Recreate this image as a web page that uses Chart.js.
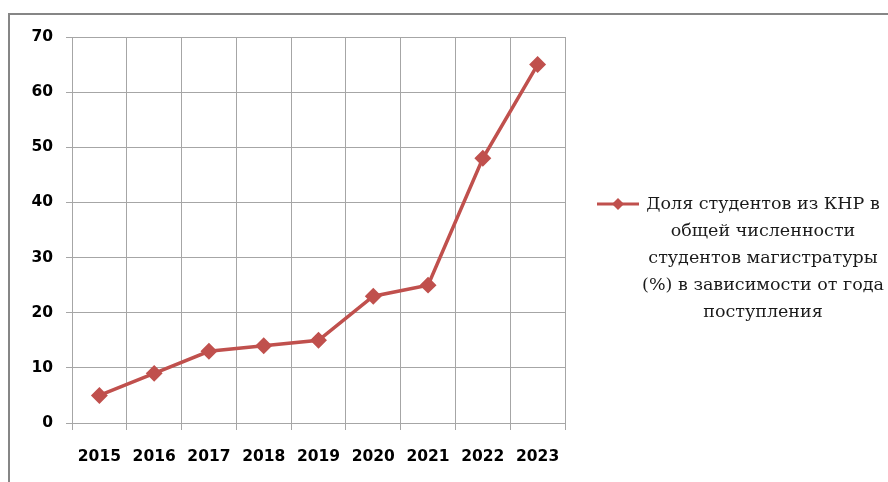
<!DOCTYPE html>
<html lang="ru">
<head>
<meta charset="UTF-8">
<title>Доля студентов из КНР</title>
<script src="https://cdn.jsdelivr.net/npm/chart.js"></script>
<style>
    body {
        margin: 0;
        padding: 0;
        background: #fff;
        overflow: hidden;
    }
    .wrap {
        position: relative;
        width: 888px;
        height: 482px;
    }
    .frame {
        position: absolute;
        left: 8px;
        top: 13px;
        width: 900px;
        height: 500px;
        border-left: 2px solid #868686;
        border-top: 2px solid #868686;
    }
    canvas {
        position: absolute;
        left: 0;
        top: 0;
    }
</style>
</head>
<body>
<div class="wrap">
    <div class="frame"></div>
    <canvas id="myChart" width="888" height="482"></canvas>
</div>

<script>
    var years = ['2015', '2016', '2017', '2018', '2019', '2020', '2021', '2022', '2023'];
    var shares = [5, 9, 13, 14, 15, 23, 25, 48, 65];
    var legendLines = [
        'Доля студентов из КНР в',
        'общей численности',
        'студентов магистратуры',
        '(%) в зависимости от года',
        'поступления'
    ];

    var lineColor = '#C0504D';
    var gridColor = '#A6A6A6';

    // legend with wrapped text, drawn by hand
    var wrappedLegend = {
        id: 'wrappedLegend',
        afterDraw: function(chart) {
            var ctx = chart.ctx;
            ctx.save();
            var y0 = 204;
            ctx.strokeStyle = lineColor;
            ctx.lineWidth = 3;
            ctx.beginPath();
            ctx.moveTo(597, y0);
            ctx.lineTo(639, y0);
            ctx.stroke();
            ctx.fillStyle = lineColor;
            ctx.beginPath();
            ctx.moveTo(618, y0 - 6);
            ctx.lineTo(624, y0);
            ctx.lineTo(618, y0 + 6);
            ctx.lineTo(612, y0);
            ctx.closePath();
            ctx.fill();

            ctx.fillStyle = '#1a1a1a';
            ctx.font = '17.5px "DejaVu Serif"';
            ctx.textAlign = 'center';
            ctx.textBaseline = 'middle';
            for (var i = 0; i < legendLines.length; i++) {
                ctx.fillText(legendLines[i], 763, y0 + i * 27);
            }
            ctx.restore();
        }
    };

    var ctx = document.getElementById('myChart').getContext('2d');
    var myChart = new Chart(ctx, {
        type: 'line',
        data: {
            labels: years,
            datasets: [{
                label: legendLines.join(' '),
                data: shares,
                borderColor: lineColor,
                backgroundColor: lineColor,
                borderWidth: 3.5,
                pointStyle: 'rectRot',
                pointRadius: 6,
                pointHoverRadius: 6,
                tension: 0
            }]
        },
        options: {
            responsive: false,
            animation: false,
            layout: {
                padding: { top: 37, right: 323, bottom: 0, left: 0 }
            },
            scales: {
                y: {
                    min: 0,
                    max: 70,
                    ticks: {
                        stepSize: 10,
                        padding: 13,
                        color: '#000',
                        font: { family: 'DejaVu Sans', size: 15.5, weight: 'bold' }
                    },
                    grid: {
                        color: gridColor,
                        lineWidth: 1,
                        tickLength: 6
                    },
                    border: { color: gridColor },
                    afterFit: function(scale) { scale.width = 72; }
                },
                x: {
                    offset: true,
                    ticks: {
                        padding: 18,
                        color: '#000',
                        font: { family: 'DejaVu Sans', size: 15.5, weight: 'bold' }
                    },
                    grid: {
                        offset: true,
                        color: gridColor,
                        lineWidth: 1,
                        tickLength: 7
                    },
                    border: { color: gridColor },
                    afterFit: function(scale) { scale.height = 59; }
                }
            },
            plugins: {
                legend: { display: false },
                tooltip: { enabled: false }
            }
        },
        plugins: [wrappedLegend]
    });
</script>
</body>
</html>
